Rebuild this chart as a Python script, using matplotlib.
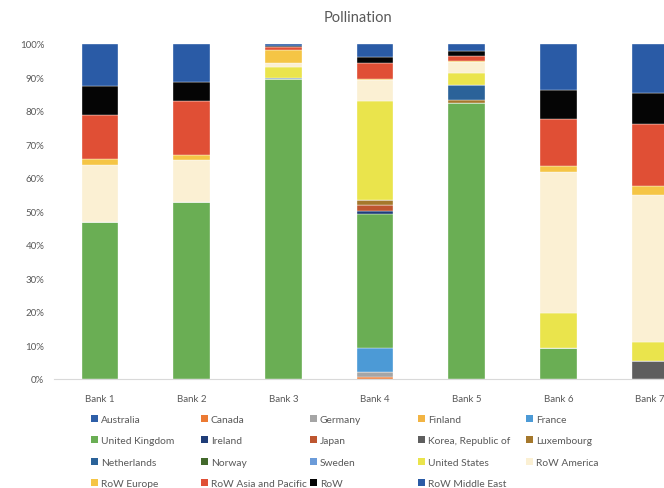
import matplotlib
matplotlib.use("Agg")
import matplotlib.pyplot as plt
from matplotlib.patches import Patch
from matplotlib.ticker import FuncFormatter

banks = ["Bank 1", "Bank 2", "Bank 3", "Bank 4", "Bank 5", "Bank 6", "Bank 7"]

# Share of each country / region per bank (percent)
australia      = [0.0, 0.0, 0.0, 0.0, 0.0, 0.0, 0.0]
canada         = [0.0, 0.0, 0.0, 0.7, 0.0, 0.0, 0.0]
germany        = [0.0, 0.0, 0.0, 1.3, 0.0, 0.0, 0.0]
finland        = [0.0, 0.0, 0.0, 0.0, 0.0, 0.0, 0.0]
france         = [0.0, 0.0, 0.0, 7.2, 0.0, 0.0, 0.0]
united_kingdom = [46.8, 52.7, 89.5, 40.1, 82.3, 9.4, 0.0]
ireland        = [0.0, 0.0, 0.0, 0.9, 0.0, 0.0, 0.0]
japan          = [0.0, 0.0, 0.0, 1.7, 0.0, 0.0, 0.0]
korea          = [0.0, 0.0, 0.0, 0.0, 0.0, 0.0, 5.5]
luxembourg     = [0.0, 0.0, 0.0, 1.5, 1.0, 0.0, 0.0]
netherlands    = [0.0, 0.0, 0.5, 0.0, 4.5, 0.0, 0.0]
norway         = [0.0, 0.0, 0.0, 0.0, 0.0, 0.0, 0.0]
sweden         = [0.0, 0.0, 0.0, 0.0, 0.0, 0.0, 0.0]
united_states  = [0.0, 0.0, 3.2, 29.7, 3.5, 10.3, 5.5]
row_america    = [17.0, 12.8, 1.0, 6.2, 3.2, 42.2, 43.9]
row_europe     = [1.8, 1.4, 4.1, 0.3, 0.3, 1.8, 2.6]
row_asia_pac   = [13.1, 16.0, 0.7, 4.6, 1.7, 13.9, 18.6]
row_other      = [8.8, 5.7, 0.3, 1.8, 1.5, 8.7, 9.2]
row_mid_east   = [12.5, 11.4, 0.7, 4.0, 2.0, 13.7, 14.7]

series_names = [
    "Australia", "Canada", "Germany", "Finland", "France",
    "United Kingdom", "Ireland", "Japan", "Korea, Republic of", "Luxembourg",
    "Netherlands", "Norway", "Sweden", "United States", "RoW America",
    "RoW Europe", "RoW Asia and Pacific", "RoW", "RoW Middle East",
]
series_values = [
    australia, canada, germany, finland, france,
    united_kingdom, ireland, japan, korea, luxembourg,
    netherlands, norway, sweden, united_states, row_america,
    row_europe, row_asia_pac, row_other, row_mid_east,
]
series_colors = [
    "#2E5FA8", "#EC7A33", "#A5A5A5", "#F2B443", "#4C9AD6",
    "#6AAE54", "#1F3D78", "#BE5630", "#5E5E5E", "#A5782C",
    "#2B6299", "#43692C", "#6B9BD9", "#EAE44C", "#FBF0D3",
    "#F5C545", "#E04F35", "#050505", "#2A5BA6",
]

text_color = "#595959"
font = ["Lato", "DejaVu Sans"]
plt.rcParams["font.family"] = font

fig = plt.figure(figsize=(6.64, 4.89), dpi=100)
# Plot area is wider than the canvas, so the last bar runs off the right edge
ax = fig.add_axes([54 / 664, 1 - 380 / 489, 642 / 664, 335 / 489])

x = list(range(len(banks)))
bottom = [0.0] * len(banks)
for name, vals, col in zip(series_names, series_values, series_colors):
    ax.bar(x, vals, width=0.40, bottom=bottom, color=col,
           edgecolor="white", linewidth=0.25, label=name)
    bottom = [b + v for b, v in zip(bottom, vals)]

ax.set_xlim(-0.5, len(banks) - 0.5)
ax.set_ylim(0, 100)
ax.set_yticks(range(0, 101, 10))
ax.yaxis.set_major_formatter(FuncFormatter(lambda v, p: f"{int(v)}%"))
ax.set_xticks(x)
ax.set_xticklabels(banks)
ax.tick_params(axis="both", length=0, labelsize=7, colors=text_color)
ax.tick_params(axis="y", pad=7)
ax.tick_params(axis="x", pad=11)
for side in ("left", "right", "top"):
    ax.spines[side].set_visible(False)
ax.spines["bottom"].set_color("#D9D9D9")
ax.spines["bottom"].set_linewidth(0.8)

fig.text(358 / 664, 1 - 18 / 489, "Pollination", ha="center", va="center",
         fontsize=10.5, color=text_color)

# Legend: five equally spaced columns laid out row by row
handles = [Patch(facecolor=c, edgecolor="none") for c in series_colors]
col_x = [91, 200.5, 309.5, 418, 525.5]
ncol = 5
for c in range(ncol):
    idx = list(range(c, len(series_names), ncol))
    leg = fig.legend([handles[i] for i in idx], [series_names[i] for i in idx],
                     loc="upper left", bbox_to_anchor=(col_x[c] / 664, 1 - 415.5 / 489),
                     frameon=False, fontsize=7.4, handlelength=0.7, handleheight=0.7,
                     handletextpad=0.3, labelspacing=1.2, borderpad=0, borderaxespad=0)
    for t in leg.get_texts():
        t.set_color(text_color)

fig.savefig("out.png", dpi=100)
